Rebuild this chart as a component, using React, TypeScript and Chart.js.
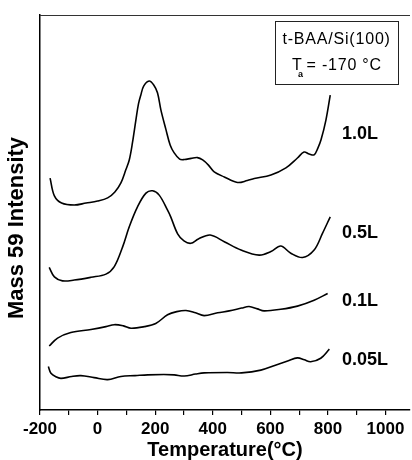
import React, { useEffect, useRef } from "react";
import { Chart, registerables } from "chart.js";

Chart.register(...registerables);

// ---- data (temperature in °C, intensity in arbitrary units) ----
const T_10L = [-165, -150, -125, -81, -40, 0, 35, 60, 81, 98, 110, 121, 133, 142, 150, 160, 179, 195, 208, 220, 237, 252, 266, 285, 301, 325, 347, 365, 385, 405, 440, 486, 520, 544, 602, 654, 694, 717, 735, 752, 765, 776, 793, 808];
const V_10L = [58.7, 54.2, 52.4, 51.9, 52.4, 52.9, 53.7, 55.2, 57.5, 60.8, 63.3, 67.6, 73.4, 77.5, 79.7, 82.0, 83.3, 82.3, 80.3, 75.9, 71.1, 67.1, 65.1, 63.5, 63.4, 63.7, 63.9, 63.3, 62.0, 60.3, 59.0, 57.6, 58.1, 58.6, 59.5, 61.3, 63.8, 65.3, 64.8, 64.6, 66.3, 68.4, 73.4, 79.7];

const T_05L = [-168, -150, -122, -81, -23, 29, 58, 87, 110, 139, 168, 191, 214, 243, 254, 278, 300, 324, 350, 391, 440, 498, 561, 602, 636, 671, 712, 752, 781, 808];
const V_05L = [36.1, 33.7, 32.7, 32.9, 33.6, 34.4, 36.3, 41.3, 46.4, 51.5, 54.9, 55.5, 54.4, 50.6, 48.9, 44.6, 42.8, 42.2, 43.3, 44.3, 42.6, 40.5, 39.2, 40.1, 41.5, 39.7, 38.6, 40.5, 44.7, 48.9];

const T_01L = [-168, -139, -93, -23, 29, 58, 90, 116, 162, 202, 243, 275, 307, 340, 370, 417, 457, 500, 526, 555, 578, 636, 694, 752, 799];
const V_01L = [16.2, 18.2, 19.6, 20.4, 21.1, 21.6, 21.3, 20.7, 21.1, 21.9, 24.1, 24.9, 25.2, 24.6, 23.9, 24.6, 25.1, 25.8, 26.2, 25.6, 25.1, 25.5, 26.3, 27.8, 29.5];

const T_005L = [-171, -162, -145, -127, -90, -58, -12, 35, 81, 130, 174, 230, 266, 301, 340, 370, 451, 500, 567, 620, 660, 694, 718, 740, 775, 805];
const V_005L = [11.0, 9.3, 8.4, 8.0, 8.5, 8.7, 8.2, 7.7, 8.5, 8.7, 8.9, 9.0, 8.9, 8.6, 9.1, 9.4, 9.5, 9.4, 10.1, 11.4, 12.4, 13.2, 12.7, 12.2, 13.1, 15.4];

const SERIES_LABELS = ["1.0L", "0.5L", "0.1L", "0.05L"];
const LABEL_T = 849;
const LABEL_V = [69.9, 44.7, 27.7, 12.7];

const X_TICKS = [-200, -100, 0, 100, 200, 300, 400, 500, 600, 700, 800, 900, 1000];
const X_MIN = -200;
const X_MAX = 1085;
const Y_MIN = 0;
const Y_MAX = 100;

const X_TITLE = "Temperature(°C)";
const Y_TITLE = "Mass 59 Intensity";
const BOX_LINE1 = "t-BAA/Si(100)";
const BOX_T = "T";
const BOX_SUB = "a";
const BOX_REST = "= -170 °C";

const FONT = '"Liberation Sans", Arial, Helvetica, sans-serif';

const pairs = (xs: number[], ys: number[]) => xs.map((x, i) => ({ x, y: ys[i] }));

const annotate = {
  id: "annotate",
  afterDraw(chart: any) {
    const { ctx, chartArea, scales } = chart;
    ctx.save();
    // top frame line
    ctx.strokeStyle = "#333";
    ctx.lineWidth = 1;
    ctx.beginPath();
    ctx.moveTo(chartArea.left, Math.round(chartArea.top) + 0.5);
    ctx.lineTo(chartArea.right, Math.round(chartArea.top) + 0.5);
    ctx.stroke();

    // series labels
    ctx.fillStyle = "#000";
    ctx.font = `bold 18px ${FONT}`;
    ctx.textAlign = "left";
    ctx.textBaseline = "middle";
    SERIES_LABELS.forEach((t, i) => {
      ctx.fillText(t, scales.x.getPixelForValue(LABEL_T), scales.y.getPixelForValue(LABEL_V[i]));
    });

    // info box
    ctx.strokeStyle = "#222";
    ctx.lineWidth = 1;
    ctx.strokeRect(275.5, 21.5, 123, 63);
    (ctx as any).letterSpacing = "0.8px";
    ctx.font = `16px ${FONT}`;
    ctx.textBaseline = "alphabetic";
    ctx.fillText(BOX_LINE1, 282.5, 44);
    ctx.fillText(BOX_T, 292, 70);
    (ctx as any).letterSpacing = "0px";
    ctx.font = `bold 9px ${FONT}`;
    ctx.fillText(BOX_SUB, 298, 77);
    (ctx as any).letterSpacing = "0.8px";
    ctx.font = `16px ${FONT}`;
    ctx.fillText(BOX_REST, 306.5, 70);
    (ctx as any).letterSpacing = "0px";

    // y title
    ctx.translate(17, 228);
    ctx.rotate(-Math.PI / 2);
    ctx.font = `bold 22px ${FONT}`;
    ctx.textAlign = "center";
    ctx.textBaseline = "middle";
    ctx.fillText(Y_TITLE, 0, 0);
    ctx.restore();
  },
};

export default function App() {
  const ref = useRef<HTMLCanvasElement>(null);
  useEffect(() => {
    if (!ref.current) return;
    const line = (xs: number[], ys: number[], label: string) => ({
      label,
      data: pairs(xs, ys),
      borderColor: "#000",
      borderWidth: 1.6,
      pointRadius: 0,
      fill: false,
      tension: 0.35,
    });
    const chart = new Chart(ref.current, {
      type: "line",
      data: {
        datasets: [
          line(T_10L, V_10L, SERIES_LABELS[0]),
          line(T_05L, V_05L, SERIES_LABELS[1]),
          line(T_01L, V_01L, SERIES_LABELS[2]),
          line(T_005L, V_005L, SERIES_LABELS[3]),
        ],
      },
      options: {
        animation: false,
        responsive: false,
        maintainAspectRatio: false,
        layout: { padding: { top: 15, right: 2, left: 0, bottom: 0 } },
        plugins: { legend: { display: false }, tooltip: { enabled: false } },
        scales: {
          x: {
            type: "linear",
            min: X_MIN,
            max: X_MAX,
            afterBuildTicks: (scale: any) => {
              scale.ticks = X_TICKS.map((v) => ({ value: v }));
            },
            afterFit: (scale: any) => {
              scale.height = 50;
            },
            ticks: {
              autoSkip: false,
              maxRotation: 0,
              color: "#000",
              padding: 4,
              font: { family: FONT, size: 17, weight: "bold", lineHeight: 1.2 },
              callback: (v: any) => (Number(v) % 200 === 0 ? String(v) : ""),
            },
            grid: {
              display: true,
              drawOnChartArea: false,
              drawTicks: true,
              tickLength: 5,
              color: "#000",
              lineWidth: 1.2,
            },
            border: { display: true, color: "#000", width: 1.5 },
            title: {
              display: true,
              text: X_TITLE,
              color: "#000",
              font: { family: FONT, size: 20, weight: "bold", lineHeight: 1.0 },
              padding: { top: 0, bottom: 0 },
            },
          },
          y: {
            type: "linear",
            min: Y_MIN,
            max: Y_MAX,
            afterFit: (scale: any) => {
              scale.width = 40;
            },
            ticks: { display: false },
            grid: { display: false, drawTicks: false },
            border: { display: true, color: "#000", width: 1.5 },
          },
        },
      },
      plugins: [annotate],
    });
    return () => chart.destroy();
  }, []);
  return (
    <div style={{ position: "fixed", left: 0, top: 0, width: 412, height: 460, background: "#fff" }}>
      <canvas ref={ref} width={412} height={460} style={{ display: "block", width: 412, height: 460 }} />
    </div>
  );
}
